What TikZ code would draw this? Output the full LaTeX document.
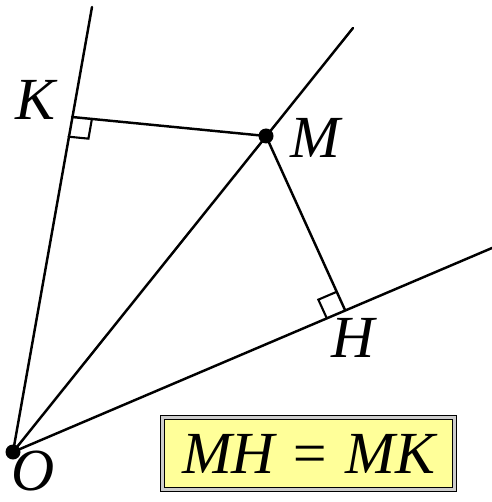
\documentclass[tikz,border=0pt]{standalone}
\usepackage{fontspec}
\setmainfont{Liberation Serif}
\usetikzlibrary{calc}
\definecolor{boxyellow}{HTML}{FFFF99}

\begin{document}
\begin{tikzpicture}[x=0.2mm,y=-0.2mm,line width=1.4pt,line cap=round,
  lbl/.style={font=\fontsize{34}{40}\selectfont\itshape,inner sep=0pt},
  eqbox/.style={draw=black,double=gray!40,double distance=1.2pt,line width=0.8pt,
    fill=boxyellow,minimum width=58.4mm,minimum height=14.4mm}]
\useasboundingbox (0,0) rectangle (492,502);
\coordinate (O) at (13,452);
\coordinate (M) at (266,136);
\coordinate (K) at (72,117);
\coordinate (H) at (345,310);
\coordinate (Kend) at (92,7);
\coordinate (Mend) at (353,28);
\coordinate (Hend) at (492,248);
% the three rays and the two perpendiculars
\draw (O) -- (Kend) (O) -- (Mend) (O) -- (Hend);
\draw (K) -- (M) -- (H);
\foreach \f/\a/\b in {K/M/O,H/M/O}{
  \path ($(\f)!4mm!(\a)$) coordinate (\f1) ($(\f)!4mm!(\b)$) coordinate (\f2);
  \draw[line width=1.2pt] (\f1) -- ($(\f1)+(\f2)-(\f)$) -- (\f2);
}
\fill (M) circle[radius=1.5mm];
\fill (O) circle[radius=1.5mm];
\node[lbl] (lK) at (35,100) {K};
\node[lbl] (lM) at (315,138) {M};
\node[lbl] (lH) at (353,338) {H};
\node[lbl] (lO) at (33,471) {O};
\node[eqbox,lbl] (eq) at (308.5,453.5) {MH = MK};
\end{tikzpicture}
\end{document}
